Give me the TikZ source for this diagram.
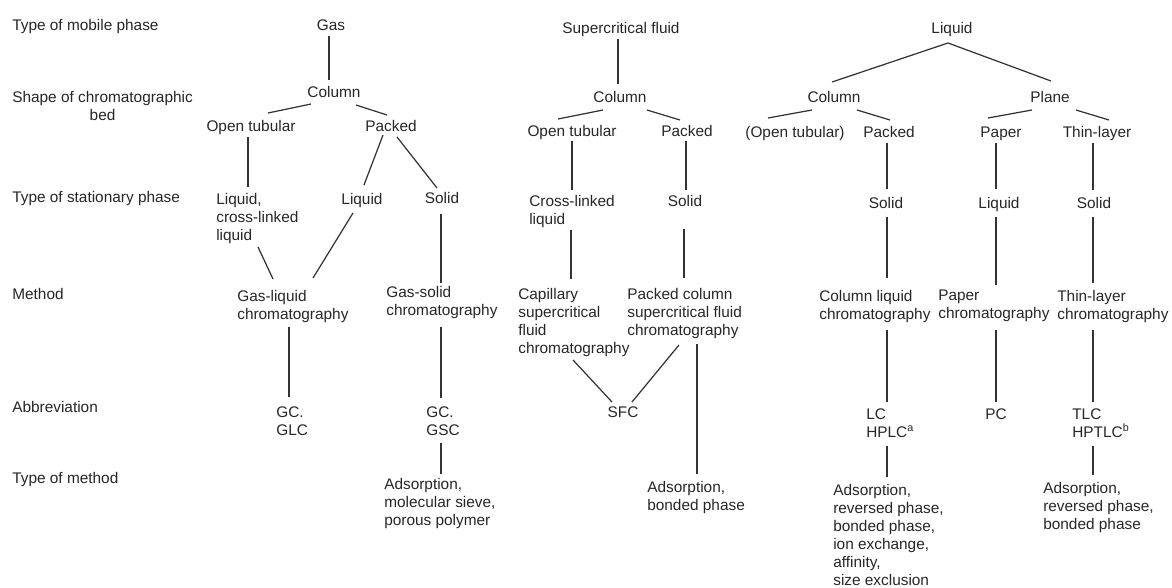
\documentclass[tikz,border=0pt]{standalone}
\usepackage{fontspec}
\setmainfont{Liberation Sans}
\usepackage{tikz}
\usetikzlibrary{positioning}

\tikzset{
  every node/.style={inner sep=0pt, text=black!85, font=\fontsize{10pt}{11.7pt}\selectfont},
  term/.style={anchor=base},
  block/.style={anchor=north west, align=left},
  rowlabel/.style={anchor=base west, align=center},
  link/.style={draw=black!80, line width=0.8pt},
}

\begin{document}
\begin{tikzpicture}[x=0.65pt, y=-0.65pt]
    \useasboundingbox (0,0) rectangle (1172,588);

    \node[rowlabel] (r1) at (12,30)  {Type of mobile phase};
    \node[rowlabel] (r2) at (12,120) {Shape of chromatographic\\bed};
    \node[rowlabel] (r3) at (12,202) {Type of stationary phase};
    \node[rowlabel] (r4) at (12,299) {Method};
    \node[rowlabel] (r5) at (12,412) {Abbreviation};
    \node[rowlabel] (r6) at (12,483) {Type of method};

    % gas
    \node[term] (gas)   at (331,30)  {Gas};
    \node[term] (gcol)  at (334,97)  {Column};
    \node[term] (gopen) at (251,131) {Open tubular};
    \node[term] (gpack) at (391,131) {Packed};
    \node[block] (gliqcl) at (216,193) {Liquid,\\cross-linked\\liquid};
    \node[term] (gliq)  at (362,204) {Liquid};
    \node[term] (gsol)  at (442,203) {Solid};
    \node[block] (glc)   at (237,290) {Gas-liquid\\chromatography};
    \node[block] (gsc)   at (386,286) {Gas-solid\\chromatography};
    \node[block] (gcglc) at (276,406) {GC.\\GLC};
    \node[block] (gcgsc) at (426,406) {GC.\\GSC};
    \node[block] (gads)  at (384,478) {Adsorption,\\molecular sieve,\\porous polymer};

    % supercritical fluid
    \node[term] (sf)    at (621,33)  {Supercritical fluid};
    \node[term] (scol)  at (620,102) {Column};
    \node[term] (sopen) at (572,136) {Open tubular};
    \node[term] (spack) at (687,136) {Packed};
    \node[block] (scross) at (529,195) {Cross-linked\\liquid};
    \node[term] (ssol)  at (685,206) {Solid};
    \node[block] (scap)  at (518,288) {Capillary\\supercritical\\fluid\\chromatography};
    \node[block] (spcol) at (627,288) {Packed column\\supercritical fluid\\chromatography};
    \node[term] (sfc)   at (623,417) {SFC};
    \node[block] (sads)  at (647,481) {Adsorption,\\bonded phase};

    % liquid
    \node[term] (liq)   at (952,33)   {Liquid};
    \node[term] (lcol)  at (834,102)  {Column};
    \node[term] (plane) at (1050,102) {Plane};
    \node[term] (lopen) at (795,137)  {(Open tubular)};
    \node[term] (lpack) at (889,137)  {Packed};
    \node[term] (paper) at (1001,137) {Paper};
    \node[term] (thin)  at (1097,137) {Thin-layer};
    \node[term] (lsol)  at (886,208)  {Solid};
    \node[term] (pliq)  at (999,208)  {Liquid};
    \node[term] (tsol)  at (1094,208) {Solid};
    \node[block] (clc)   at (819,290)  {Column liquid\\chromatography};
    \node[block] (pchr)  at (938,290)  {Paper\\chromatography};
    \node[block] (tlc)   at (1057,290) {Thin-layer\\chromatography};
    \node[block] (lc)    at (866,408)  {LC\\HPLC\textsuperscript{a}};
    \node[term]  (pc)    at (996,419)  {PC};
    \node[block] (tlcab) at (1072,408) {TLC\\HPTLC\textsuperscript{b}};
    \node[block] (lads)  at (833,484)  {Adsorption,\\reversed phase,\\bonded phase,\\ion exchange,\\affinity,\\size exclusion};
    \node[block] (tads)  at (1043,482) {Adsorption,\\reversed phase,\\bonded phase};

    \draw[link] ([shift={(-2,6)}]gas.base) -- ([shift={(-5,-17)}]gcol.base);
    \draw[link] ([shift={(-23,7)}]gcol.base) -- ([shift={(17,-18)}]gopen.base);
    \draw[link] ([shift={(22,8)}]gcol.base) -- ([shift={(-4,-16)}]gpack.base);
    \draw[link] ([shift={(-3,6)}]gopen.base) -- ([shift={(32,-6)}]gliqcl.north west);
    \draw[link] ([shift={(-8,4)}]gpack.base) -- ([shift={(2,-19)}]gliq.base);
    \draw[link] ([shift={(6,6)}]gpack.base) -- ([shift={(-5,-15)}]gsol.base);
    \draw[link] ([shift={(42,54)}]gliqcl.north west) -- ([shift={(36,-11)}]glc.north west);
    \draw[link] ([shift={(-9,9)}]gliq.base) -- ([shift={(76,-12)}]glc.north west);
    \draw[link] ([shift={(-1,11)}]gsol.base) -- ([shift={(55,-3)}]gsc.north west);
    \draw[link] ([shift={(52,37)}]glc.north west) -- ([shift={(13,-9)}]gcglc.north west);
    \draw[link] ([shift={(55,41)}]gsc.north west) -- ([shift={(15,-8)}]gcgsc.north west);
    \draw[link] ([shift={(15,37)}]gcgsc.north west) -- ([shift={(57,-4)}]gads.north west);

    \draw[link] ([shift={(-3,6)}]sf.base) -- ([shift={(-2,-18)}]scol.base);
    \draw[link] ([shift={(-17,8)}]scol.base) -- ([shift={(-14,-17)}]sopen.base);
    \draw[link] ([shift={(27,8)}]scol.base) -- ([shift={(-7,-16)}]spack.base);
    \draw[link] ([shift={(0,5)}]sopen.base) -- ([shift={(43,-5)}]scross.north west);
    \draw[link] ([shift={(-1,5)}]spack.base) -- ([shift={(1,-16)}]ssol.base);
    \draw[link] ([shift={(42,35)}]scross.north west) -- ([shift={(53,-9)}]scap.north west);
    \draw[link] ([shift={(-1,23)}]ssol.base) -- ([shift={(57,-10)}]spcol.north west);
    \draw[link] ([shift={(55,72)}]scap.north west) -- ([shift={(-11,-15)}]sfc.base);
    \draw[link] ([shift={(52,57)}]spcol.north west) -- ([shift={(9,-15)}]sfc.base);
    \draw[link] ([shift={(70,56)}]spcol.north west) -- ([shift={(50,-7)}]sads.north west);

    \draw[link] ([shift={(-2,-20)}]lcol.base) -- ([shift={(-4,10)}]liq.base) -- ([shift={(1,-21)}]plane.base);
    \draw[link] ([shift={(-22,8)}]lcol.base) -- ([shift={(-27,-19)}]lopen.base);
    \draw[link] ([shift={(23,8)}]lcol.base) -- ([shift={(1,-17)}]lpack.base);
    \draw[link] ([shift={(-18,8)}]plane.base) -- ([shift={(-13,-19)}]paper.base);
    \draw[link] ([shift={(26,8)}]plane.base) -- ([shift={(12,-17)}]thin.base);
    \draw[link] ([shift={(-2,6)}]lpack.base) -- ([shift={(1,-19)}]lsol.base);
    \draw[link] ([shift={(-5,6)}]paper.base) -- ([shift={(-3,-19)}]pliq.base);
    \draw[link] ([shift={(-4,6)}]thin.base) -- ([shift={(-1,-18)}]tsol.base);
    \draw[link] ([shift={(1,9)}]lsol.base) -- ([shift={(68,-12)}]clc.north west);
    \draw[link] ([shift={(-3,9)}]pliq.base) -- ([shift={(58,-5)}]pchr.north west);
    \draw[link] ([shift={(-1,9)}]tsol.base) -- ([shift={(36,-7)}]tlc.north west);
    \draw[link] ([shift={(68,40)}]clc.north west) -- ([shift={(21,-6)}]lc.north west);
    \draw[link] ([shift={(58,40)}]pchr.north west) -- ([shift={(0,-17)}]pc.base);
    \draw[link] ([shift={(36,40)}]tlc.north west) -- ([shift={(21,-6)}]tlcab.north west);
    \draw[link] ([shift={(21,38)}]lc.north west) -- ([shift={(54,-7)}]lads.north west);
    \draw[link] ([shift={(21,38)}]tlcab.north west) -- ([shift={(50,-7)}]tads.north west);
  \end{tikzpicture}
\end{document}
